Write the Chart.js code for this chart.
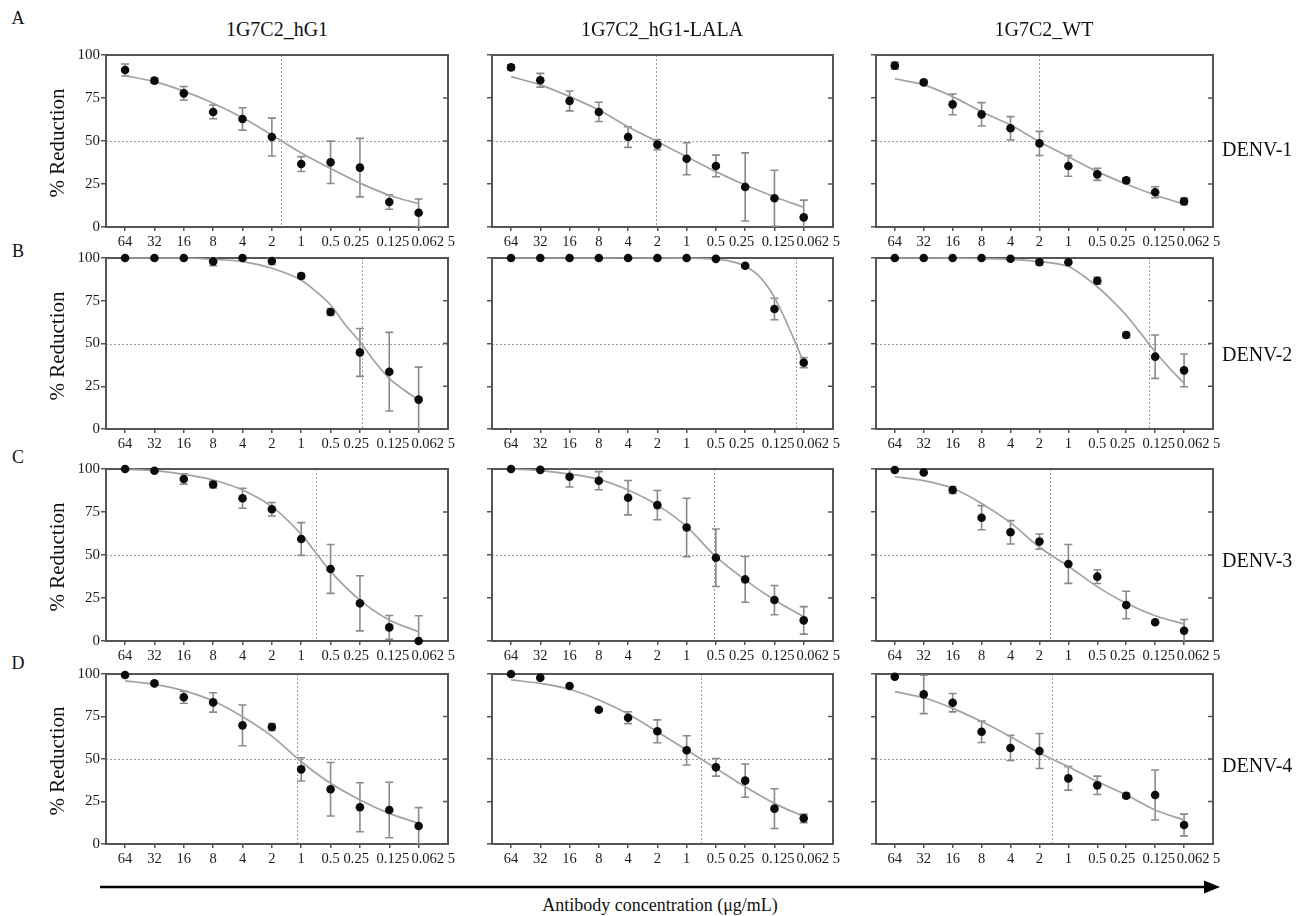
<!DOCTYPE html>
<html><head><meta charset="utf-8">
<script src="https://cdn.jsdelivr.net/npm/chart.js@4.4.1/dist/chart.umd.min.js"></script>
<style>
body{margin:0;background:#fff;width:1303px;height:916px;position:relative;overflow:hidden;font-family:"Liberation Serif","Times New Roman",serif;color:#111}
.t{position:absolute;white-space:nowrap;transform:translate(-50%,-50%);line-height:1}
.l{position:absolute;white-space:nowrap;transform:translate(0,-50%);line-height:1}
.yt{position:absolute;white-space:nowrap;transform:translate(-50%,-50%) rotate(-90deg);line-height:1;font-size:21px}
canvas{position:absolute}
</style></head><body>
<script>
// ---------- data ----------
const xLabels = ['64','32','16','8','4','2','1','0.5','0.25','0.125','0.062 5'];
const colTitles = ['1G7C2_hG1','1G7C2_hG1-LALA','1G7C2_WT'];
const rowLetters = ['A','B','C','D'];
const serotypes = ['DENV-1','DENV-2','DENV-3','DENV-4'];
const axisTitle = '% Reduction';
const xAxisTitle = 'Antibody concentration (μg/mL)';

const gridStd = [0,1,2,3,4,5,6,7,8,9,10];
const gridB = [0,1,2,3,4,5,6,6.5,7,7.5,8,8.5,9,9.5,10];

// DENV-1 (row A)
const denv1Mean = [
  [91.3,85.1,77.7,66.9,62.8,52.3,36.6,37.6,34.5,14.5,8.3],
  [92.8,85.3,73.3,66.9,52.3,47.9,39.7,35.5,23.3,16.7,5.6],
  [93.8,84.1,71.3,65.5,57.4,48.6,35.5,30.6,27.1,20.2,14.9]];
const denv1Err = [
  [3.5,1.5,4,4,6.5,11,4.3,12.3,17,4.2,8],
  [1.5,4,5.8,5.6,6,3,9.3,6.3,19.8,16.3,10],
  [2,1,6,6.8,6.8,7,6,3.5,1.5,3.2,2]];
const denv1Curve = [
  [88,84.5,79,72,63.5,53.5,43,34,25.5,18.5,13.5],
  [87.4,82.6,75.8,68,58.3,49.6,40.9,32.2,24.4,17.6,11.4],
  [86.2,82.6,75.8,67,59.3,49.6,40.9,32.2,25,18.6,13.2]];
const denv1Ic50 = [5.3,4.95,4.98];

// DENV-2 (row B)
const denv2Mean = [
  [100,100,100,98,100,98.2,89.5,68.4,44.8,33.5,17.2],
  [100,100,100,100,100,100,100,99.5,95.5,70.2,38.8],
  [100,100,100,100,99.6,97.5,97.5,86.7,55,42.3,34.3]];
const denv2Err = [
  [0,0,0,2.5,0,2,1.5,2,14,23,19],
  [0,0,0,0,0,0,0,0,0,6.3,3],
  [0,0,0,0,0,1.5,0,2,1.5,12.7,9.6]];
const denv2Curve = [
  [100,100,100,99.2,97.9,94,87,80.5,72.5,61,51,39.5,29.6,22.8,17],
  [100,100,100,100,100,100,99.9,99.7,99.3,98,95.2,89,77,59,39],
  [100,100,99.9,99.7,99.2,97.9,95,89.8,83.2,75.4,66.5,56,45.2,35.5,26.7]];
const denv2Ic50 = [8.06,9.72,8.8];

// DENV-3 (row C)
const denv3Mean = [
  [100,99,94.2,91,83,76.6,59.3,41.9,21.9,7.9,0],
  [100,99.5,95.5,93.2,83.3,79,66,48.4,35.8,23.8,12],
  [99.4,98,87.8,71.7,63.2,57.8,44.8,37.4,20.9,10.9,6]];
const denv3Err = [
  [0,0,3,2,5.8,3.9,9.5,14.2,16,6.9,14.7],
  [0,0,6,5.3,10,8.5,17,16.7,13.3,8.5,8],
  [0,0,2,7,6.8,4.4,11.3,4,8,0,6.5]];
const denv3Curve = [
  [99.8,99,96.9,93.6,87.8,78.1,62,40.5,23.8,12.2,5.4],
  [100,99,97,94,87.8,79,66.5,49,35.5,23.8,14.1],
  [95.5,93.2,88.8,80,68.8,54.5,43.5,31.6,21.9,14.7,9.9]];
const denv3Ic50 = [6.5,6.92,5.38];

// DENV-4 (row D)
const denv4Mean = [
  [99.4,94.5,86.3,83.3,69.8,68.8,43.9,32.2,21.6,20,10.6],
  [100,97.8,92.9,79,74.3,66.3,55.1,45.1,37.3,20.8,15.1],
  [98.4,88,83.1,66,56.5,54.7,38.6,34.5,28.4,28.8,11.2]];
const denv4Err = [
  [0,1,3.5,5.7,12,2,6.8,15.7,14.4,16.3,10.8],
  [0,0,0,0,3.5,6.7,8.6,5.2,9.8,11.7,2.5],
  [0,11.3,5.4,6.3,7.4,10.3,6.9,5.4,1.5,14.7,6.4]];
const denv4Curve = [
  [96,93.9,90.2,84.1,74.9,63.5,48.4,35.7,25.9,18,12.2],
  [96.5,94.5,91,84.7,76.5,66,55.3,44.5,33.7,23.9,16.1],
  [89.6,86,79.8,72,63.1,53.5,45.5,36.7,28.8,20,14.1]];
const denv4Ic50 = [5.87,6.5,5.42];

// ---------- layout ----------
const FONT = '"Liberation Serif","Times New Roman",serif';
const colLeft = [106,492,876], colWidth = [342,341,337];
const rowTop = [55,258,469,674], rowHeight = [172,171,172,170];
const PADL = 60, PADR = 45, PADT = 12, PADB = 28;

const rows = [
  {mean:denv1Mean, err:denv1Err, grid:gridStd, curve:denv1Curve, ic50:denv1Ic50},
  {mean:denv2Mean, err:denv2Err, grid:gridB,   curve:denv2Curve, ic50:denv2Ic50},
  {mean:denv3Mean, err:denv3Err, grid:gridStd, curve:denv3Curve, ic50:denv3Ic50},
  {mean:denv4Mean, err:denv4Err, grid:gridStd, curve:denv4Curve, ic50:denv4Ic50}];

function addText(cls, txt, x, y, size){
  const d = document.createElement('div');
  d.className = cls; d.textContent = txt;
  d.style.left = x+'px'; d.style.top = y+'px';
  if (size) d.style.fontSize = size+'px';
  document.body.appendChild(d);
}

// crowded labels at the right end are spread apart a little, as in the reference
function tickText(v){
  const s = xLabels[v];
  if (s === undefined) return '';
  if (v === 8) return s + '  ';
  if (v === 9) return '  ' + s;
  if (v === 10) return '        ' + s;
  return s;
}

function makePlugin(mean, err, ic50){
  return {
    id:'panel',
    beforeDatasetsDraw(chart){
      const ctx = chart.ctx, a = chart.chartArea, xs = chart.scales.x, ys = chart.scales.y;
      ctx.save();
      // reference dotted lines
      ctx.strokeStyle = '#9c9c9c'; ctx.lineWidth = 1; ctx.setLineDash([2,2]);
      const y50 = Math.round(ys.getPixelForValue(50)) + 0.5;
      ctx.beginPath(); ctx.moveTo(a.left, y50); ctx.lineTo(a.right, y50); ctx.stroke();
      const xv = Math.round(xs.getPixelForValue(ic50)) + 0.5;
      ctx.beginPath(); ctx.moveTo(xv, a.top); ctx.lineTo(xv, a.bottom); ctx.stroke();
      ctx.setLineDash([]);
      // frame
      ctx.strokeStyle = '#555'; ctx.lineWidth = 2;
      ctx.strokeRect(a.left, a.top, a.right - a.left, a.bottom - a.top);
      // inward ticks on right border
      ctx.lineWidth = 1.5;
      [0,25,50,75,100].forEach(v => {
        const py = ys.getPixelForValue(v);
        ctx.beginPath(); ctx.moveTo(a.right - 5, py); ctx.lineTo(a.right, py); ctx.stroke();
      });
      // error bars
      ctx.beginPath(); ctx.rect(a.left, a.top - 1, a.right - a.left, a.bottom - a.top + 1); ctx.clip();
      ctx.strokeStyle = '#8a8a8a'; ctx.lineWidth = 1.6;
      mean.forEach((m, i) => {
        const e = err[i]; if (!e) return;
        const px = xs.getPixelForValue(i);
        const t = ys.getPixelForValue(m + e), b = ys.getPixelForValue(m - e);
        ctx.beginPath();
        ctx.moveTo(px, t); ctx.lineTo(px, b);
        ctx.moveTo(px - 4, t); ctx.lineTo(px + 4, t);
        ctx.moveTo(px - 4, b); ctx.lineTo(px + 4, b);
        ctx.stroke();
      });
      ctx.restore();
    }
  };
}

rows.forEach((row, r) => {
  for (let c = 0; c < 3; c++) {
    const cv = document.createElement('canvas');
    const w = colWidth[c] + PADL + PADR, h = rowHeight[r] + PADT + PADB;
    cv.width = w; cv.height = h;
    cv.style.width = w + 'px'; cv.style.height = h + 'px';
    cv.style.left = (colLeft[c] - PADL) + 'px';
    cv.style.top = (rowTop[r] - PADT) + 'px';
    document.body.appendChild(cv);
    const mean = row.mean[c], err = row.err[c], curve = row.curve[c];
    new Chart(cv, {
      type: 'scatter',
      data: { datasets: [
        { data: mean.map((v, i) => ({x: i, y: v})), showLine: false,
          pointRadius: 4.3, pointBackgroundColor: '#0b0b0b', pointBorderColor: '#0b0b0b',
          pointBorderWidth: 0, clip: false, order: 0 },
        { data: row.grid.map((x, i) => ({x: x, y: curve[i]})), showLine: true,
          borderColor: '#a2a2a2', borderWidth: 1.7, pointRadius: 0,
          cubicInterpolationMode: 'monotone', clip: false, order: 1 }
      ]},
      options: {
        responsive: false, animation: false, devicePixelRatio: 1,
        events: [],
        layout: { padding: { top: PADT, right: PADR, left: 0, bottom: 0 } },
        plugins: { legend: { display: false }, tooltip: { enabled: false } },
        scales: {
          x: {
            type: 'linear', min: -0.65, max: 11,
            afterBuildTicks: s => { s.ticks = xLabels.map((_, i) => ({value: i})); },
            afterFit: s => { s.height = PADB; },
            ticks: { autoSkip: false, maxRotation: 0, minRotation: 0, padding: 2, color: '#1a1a1a',
              font: { family: FONT, size: 14.5 }, callback: v => tickText(v) },
            grid: { drawOnChartArea: false, drawTicks: true, tickLength: 4, color: '#555', lineWidth: 1.5 },
            border: { display: false }
          },
          y: {
            type: 'linear', min: 0, max: 100,
            afterFit: s => { s.width = PADL; },
            ticks: { stepSize: 25, display: c === 0, padding: 1, color: '#1a1a1a',
              font: { family: FONT, size: 15 } },
            grid: { drawOnChartArea: false, drawTicks: true, tickLength: 5, color: '#555', lineWidth: 1.5 },
            border: { display: false }
          }
        }
      },
      plugins: [makePlugin(mean, err, row.ic50[c])]
    });
  }
});

// text
const titleX = [277, 662, 1044];
colTitles.forEach((t, c) => addText('t', t, titleX[c], 29, 20));
const letterY = [17.5, 251, 456.5, 662.5];
rowLetters.forEach((t, r) => addText('t', t, 18, letterY[r], 18));
const denvY = [148.5, 353.5, 559.5, 764.5];
serotypes.forEach((t, r) => addText('l', t, 1222, denvY[r], 20));
rowTop.forEach((t, r) => addText('yt', axisTitle, 57, t + rowHeight[r] / 2 + 2));
addText('t', xAxisTitle, 660, 905, 18);

// arrow
const svgNS = 'http://www.w3.org/2000/svg';
const svg = document.createElementNS(svgNS, 'svg');
svg.setAttribute('width', 1303); svg.setAttribute('height', 916);
svg.style.position = 'absolute'; svg.style.left = '0'; svg.style.top = '0'; svg.style.pointerEvents = 'none';
svg.innerHTML = '<line x1="100" y1="887" x2="1206" y2="887" stroke="#000" stroke-width="2.6"/>' +
  '<polygon points="1204,880.5 1220,887 1204,893.5" fill="#000"/>';
document.body.appendChild(svg);
</script>
</body></html>
